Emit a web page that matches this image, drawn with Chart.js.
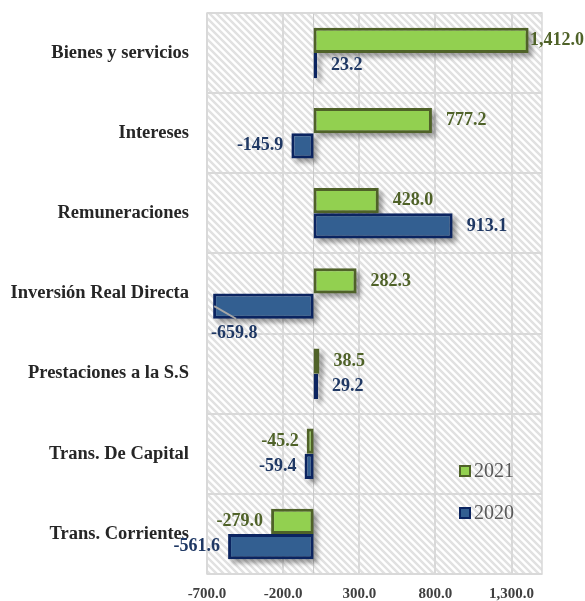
<!DOCTYPE html>
<html>
<head>
<meta charset="utf-8">
<script src="https://cdn.jsdelivr.net/npm/chart.js@4/dist/chart.umd.min.js"></script>
<style>
    html, body { margin: 0; padding: 0; background: #fff; }
    #grafico { display: block; }
</style>
</head>
<body>
<canvas id="grafico" width="585" height="601"></canvas>
<script>
// datos del gráfico
const categorias = ['Bienes y servicios', 'Intereses', 'Remuneraciones', 'Inversión Real Directa',
    'Prestaciones a la S.S', 'Trans. De Capital', 'Trans. Corrientes'];
const valores2021 = [1412.0, 777.2, 428.0, 282.3, 38.5, -45.2, -279.0];
const valores2020 = [23.2, -145.9, 913.1, -659.8, 29.2, -59.4, -561.6];
const ticksX = [-700, -200, 300, 800, 1300];
const series = ['2021', '2020'];

const fuenteSerif = "'Liberation Serif', 'Times New Roman', serif";
const verde = {fondo: '#92D050', borde: '#4F6228', texto: '#4F6228'};
const azul = {fondo: '#335F91', borde: '#0B2460', texto: '#1F3864'};

const fmt = v => v.toLocaleString('en-US', {minimumFractionDigits: 1, maximumFractionDigits: 1});

// patron de rayas diagonales del fondo
function crearTrama(ctx) {
    const n = 7;
    const c = document.createElement('canvas');
    c.width = n; c.height = n;
    const p = c.getContext('2d');
    p.fillStyle = '#ffffff';
    p.fillRect(0, 0, n, n);
    p.strokeStyle = '#E1E1E1';
    p.lineWidth = 2.5;
    p.beginPath();
    for (let k = -1; k <= 1; k++) {
        p.moveTo(k * n - 1, -1);
        p.lineTo(k * n + n + 1, n + 1);
    }
    p.stroke();
    return ctx.createPattern(c, 'repeat');
}

const fondoPlugin = {
    id: 'fondo',
    beforeDraw(chart) {
        const {ctx, chartArea: a} = chart;
        ctx.save();
        ctx.fillStyle = crearTrama(ctx);
        ctx.fillRect(a.left, a.top, a.right - a.left, a.bottom - a.top);
        ctx.restore();
    },
    beforeDatasetsDraw(chart) {
        const {ctx, chartArea: a} = chart;
        const x0 = chart.scales.x.getPixelForValue(0);
        ctx.save();
        // linea del cero
        ctx.strokeStyle = '#C8C8C8';
        ctx.lineWidth = 1;
        ctx.beginPath();
        ctx.moveTo(x0, a.top);
        ctx.lineTo(x0, a.bottom);
        ctx.stroke();
        // sombra de las barras
        ctx.fillStyle = 'rgba(0,0,0,0.35)';
        ctx.filter = 'blur(2px)';
        chart.data.datasets.forEach((ds, i) => {
            chart.getDatasetMeta(i).data.forEach(bar => {
                const {x, y, base, height} = bar.getProps(['x', 'y', 'base', 'height']);
                const izq = Math.min(x, base);
                ctx.fillRect(izq + 4, y - height / 2 + 4, Math.abs(x - base), height);
            });
        });
        ctx.restore();
    },
    afterDraw(chart) {
        const {ctx, chartArea: a} = chart;
        ctx.save();
        // marco
        ctx.strokeStyle = '#D9D9D9';
        ctx.lineWidth = 1.5;
        ctx.strokeRect(a.left, a.top, a.right - a.left, a.bottom - a.top);

        // etiquetas de valores
        ctx.font = 'bold 18px ' + fuenteSerif;
        ctx.textBaseline = 'middle';
        chart.data.datasets.forEach((ds, i) => {
            const color = i === 0 ? verde.texto : azul.texto;
            chart.getDatasetMeta(i).data.forEach((bar, j) => {
                const v = ds.data[j];
                const txt = fmt(v);
                const w = ctx.measureText(txt).width;
                const {x, y, height} = bar.getProps(['x', 'y', 'height']);
                ctx.fillStyle = color;
                if (v >= 0) {
                    let tx = x + 14;
                    if (tx + w > chart.width - 1) tx = chart.width - 1 - w;
                    ctx.textAlign = 'left';
                    ctx.fillText(txt, tx, y);
                } else if (x - 8 - w < a.left - 40) {
                    // sin espacio: debajo de la barra con linea guia
                    ctx.strokeStyle = '#A6A6A6';
                    ctx.lineWidth = 2;
                    ctx.beginPath();
                    ctx.moveTo(x + 1, y);
                    ctx.lineTo(x + 23, y + height / 2);
                    ctx.stroke();
                    ctx.textAlign = 'left';
                    ctx.fillText(txt, x - 2, y + height / 2 + 15);
                } else {
                    ctx.textAlign = 'right';
                    ctx.fillText(txt, x - 8, y);
                }
            });
        });

        // leyenda dentro del area
        ctx.font = '20px ' + fuenteSerif;
        ctx.textAlign = 'left';
        [verde, azul].forEach((c, i) => {
            const lx = a.right - 83;
            const ly = a.bottom - 103 + i * 42;
            ctx.fillStyle = c.borde;
            ctx.fillRect(lx, ly - 6, 12, 12);
            ctx.fillStyle = c.fondo;
            ctx.fillRect(lx + 2, ly - 4, 8, 8);
            ctx.fillStyle = '#595959';
            ctx.fillText(series[i], lx + 15, ly + 1);
        });
        ctx.restore();
    }
};

new Chart(document.getElementById('grafico'), {
    type: 'bar',
    data: {
        labels: categorias,
        datasets: [
            {
                label: series[0],
                data: valores2021,
                backgroundColor: verde.fondo,
                borderColor: verde.borde,
                borderWidth: 3,
                borderSkipped: false
            },
            {
                label: series[1],
                data: valores2020,
                backgroundColor: azul.fondo,
                borderColor: azul.borde,
                borderWidth: 3,
                borderSkipped: false
            }
        ]
    },
    options: {
        indexAxis: 'y',
        responsive: false,
        animation: false,
        devicePixelRatio: 1,
        categoryPercentage: 0.63,
        barPercentage: 1,
        layout: {autoPadding: false, padding: {top: 13, right: 43, left: 0, bottom: 0}},
        plugins: {
            legend: {display: false},
            tooltip: {enabled: false}
        },
        scales: {
            x: {
                min: -700,
                max: 1500,
                afterBuildTicks: scale => { scale.ticks = ticksX.map(v => ({value: v})); },
                afterFit: scale => {
                    scale.height = 27;
                    scale.paddingLeft = 0;
                    scale.paddingRight = 0;
                },
                border: {display: false},
                grid: {color: '#D9D9D9', lineWidth: 2, drawTicks: false},
                ticks: {
                    padding: 11,
                    color: '#404040',
                    font: {family: fuenteSerif, size: 15, weight: 'bold'},
                    callback: v => fmt(v)
                }
            },
            y: {
                afterFit: scale => {
                    scale.width = 207;
                    scale.paddingTop = 0;
                    scale.paddingBottom = 0;
                },
                border: {display: false},
                grid: {color: '#D9D9D9', lineWidth: 2, drawTicks: false},
                ticks: {
                    padding: 18,
                    color: '#262626',
                    font: {family: fuenteSerif, size: 18.5, weight: 'bold'}
                }
            }
        }
    },
    plugins: [fondoPlugin]
});
</script>
</body>
</html>
